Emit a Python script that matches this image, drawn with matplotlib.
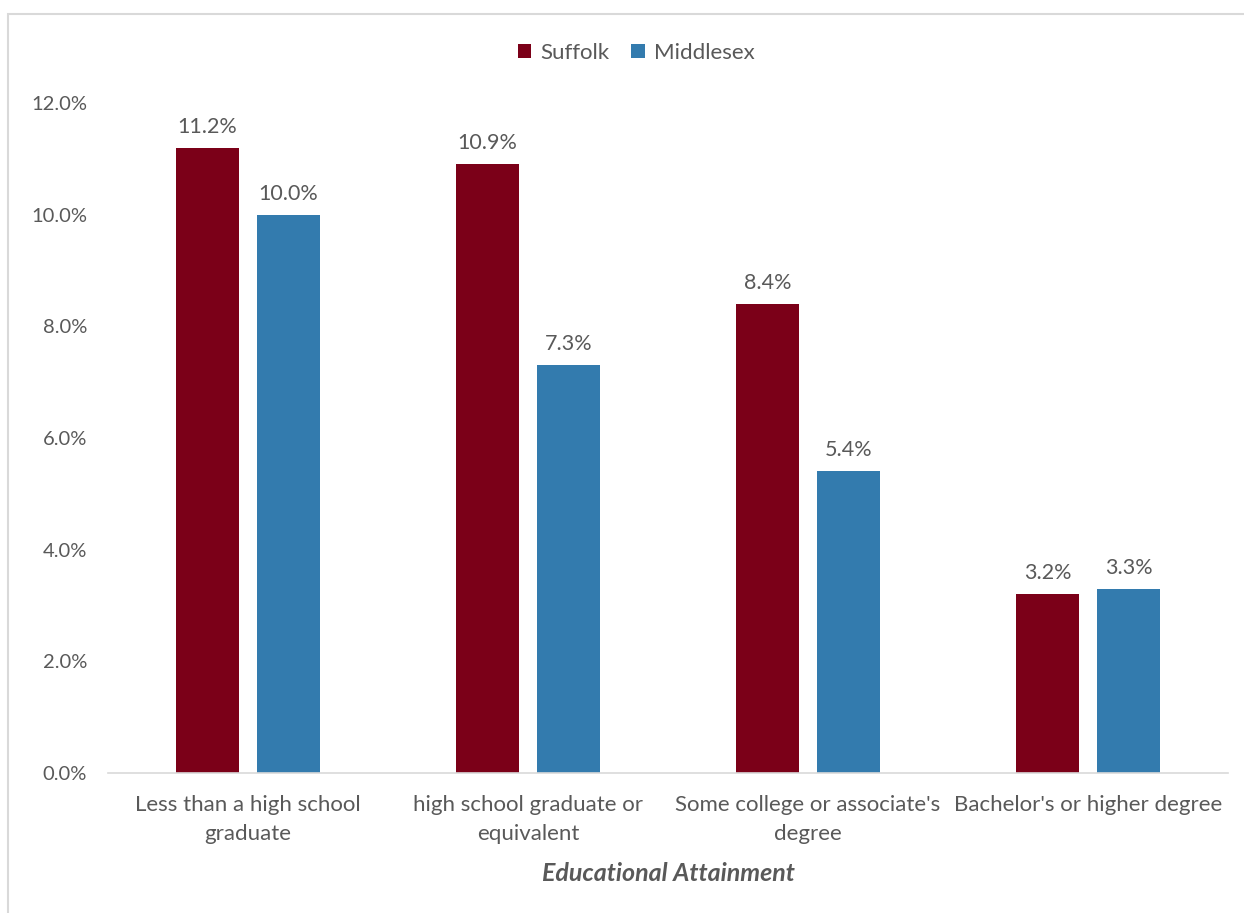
import numpy as np
import matplotlib.pyplot as plt
from matplotlib.patches import Rectangle

# Data
categories = ["Less than a high school\ngraduate",
              "high school graduate or\nequivalent",
              "Some college or associate's\ndegree",
              "Bachelor's or higher degree"]
suffolk = [11.2, 10.9, 8.4, 3.2]
middlesex = [10.0, 7.3, 5.4, 3.3]
series_names = ["Suffolk", "Middlesex"]

c_suff = "#7b0018"
c_mid = "#337bae"
txt = "#595959"

plt.rcParams['font.family'] = ['Lato', 'DejaVu Sans']

fig = plt.figure(figsize=(12.44, 9.13), dpi=100)
ax = fig.add_axes([108/1244, 1 - 773/913, 1120/1244, 670/913])

# chart frame (only top/left edges visible in the crop)
fig.patches.append(Rectangle((8/1244, -0.1), 1.2, 1 - 14/913 + 0.1,
                             transform=fig.transFigure, fill=False,
                             edgecolor="#d9d9d9", linewidth=1.5))

x = np.arange(len(categories))
w = 0.225
off = 0.1445
b1 = ax.bar(x - off, suffolk, w, color=c_suff, label=series_names[0])
b2 = ax.bar(x + off, middlesex, w, color=c_mid, label=series_names[1])

for bars, vals in ((b1, suffolk), (b2, middlesex)):
    for b, v in zip(bars, vals):
        ax.annotate(f"{v:.1f}%", (b.get_x() + b.get_width() / 2, v),
                    xytext=(0, 8), textcoords="offset points",
                    ha="center", va="bottom", fontsize=15.5, color=txt)

ax.set_xlim(-0.5, 3.5)
ax.set_ylim(0, 12)
ax.set_yticks(np.arange(0, 12.1, 2))
ax.set_yticklabels([f"{v:.1f}%" for v in np.arange(0, 12.1, 2)], fontsize=14.5)
ax.set_xticks(x)
ax.set_xticklabels(categories, fontsize=16, linespacing=1.55)
ax.tick_params(axis="both", length=0, colors=txt)
ax.tick_params(axis="y", pad=15)
ax.tick_params(axis="x", pad=16)

for s in ("top", "right", "left"):
    ax.spines[s].set_visible(False)
ax.spines["bottom"].set_color("#d9d9d9")
ax.spines["bottom"].set_linewidth(1.2)

ax.set_xlabel("Educational Attainment", fontsize=18, fontweight="bold",
              fontstyle="italic", color=txt, labelpad=13)

leg = fig.legend(loc="center", bbox_to_anchor=(636/1244, 1 - 53/913), ncol=2,
                 frameon=False, fontsize=16, handlelength=0.6, handleheight=0.6,
                 handletextpad=0.4, columnspacing=1.0)
for t in leg.get_texts():
    t.set_color(txt)

fig.savefig("out.png", dpi=100)
